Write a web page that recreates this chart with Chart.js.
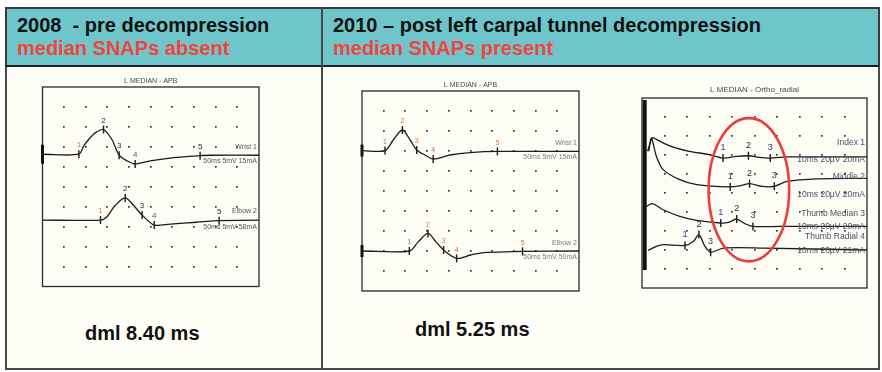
<!DOCTYPE html>
<html>
<head>
<meta charset="utf-8">
<script src="https://cdn.jsdelivr.net/npm/chart.js@4.4.0/dist/chart.umd.min.js"></script>
<style>
body { margin: 0; width: 882px; height: 372px; overflow: hidden; position: relative; background: #fff; font-family: "Liberation Sans", Arial, sans-serif; }
.abs { position: absolute; box-sizing: border-box; }
#frame { left: 5px; top: 7px; width: 875px; height: 363px; border: 2px solid #4a4a4a; background: #fdfdf6; }
#head { left: 5px; top: 7px; width: 875px; height: 60px; background: #6ec6cb; border: 2px solid #3a3a3a; border-bottom: 2.5px solid #1f1f1f; }
#divider { left: 321px; top: 7px; width: 2px; height: 363px; background: #474747; }
.txt { position: absolute; font-weight: bold; font-size: 20px; line-height: 20px; white-space: pre; }
.blk { color: #111; }
.red { color: #f2443f; }
.dml { position: absolute; font-weight: bold; font-size: 20px; line-height: 20px; color: #111; white-space: pre; }
canvas { position: absolute; }
</style>
</head>
<body>
<div id="frame" class="abs"></div>
<div id="head" class="abs"></div>
<div id="divider" class="abs"></div>

<div class="txt blk" style="left:17px;top:15px">2008  - pre decompression</div>
<div class="txt red" style="left:17px;top:38px">median SNAPs absent</div>
<div class="txt blk" style="left:333px;top:15px">2010 – post left carpal tunnel decompression</div>
<div class="txt red" style="left:333px;top:38px">median SNAPs present</div>

<div class="dml" style="left:85px;top:323px">dml 8.40 ms</div>
<div class="dml" style="left:415px;top:319px">dml 5.25 ms</div>

<canvas id="apb08" width="250" height="225" style="left:30px;top:74px"></canvas>
<canvas id="apb10" width="250" height="225" style="left:345px;top:76px"></canvas>
<canvas id="ortho" width="250" height="215" style="left:630px;top:82px"></canvas>

<script>
// time in ms, amplitude in screen divisions (10 x 10 grid)

// 2008, L median - APB, 50 ms sweep
var wrist08T = [0, 8.4, 9.5, 11.1, 12.5, 14.1, 16.0, 17.7, 19.5, 21.4, 24.9, 29.5, 35.7, 36.4, 38.7, 50];
var wrist08V = [6.63, 6.63, 7.04, 7.48, 7.75, 7.87, 7.38, 6.58, 6.30, 6.14, 6.30, 6.44, 6.55, 6.56, 6.58, 6.58];
var wrist08Marks = [8.4, 14.1, 17.7, 21.4, 36.4];
var elbow08T = [0, 13.4, 14.9, 16.8, 19.1, 21.0, 23.0, 25.8, 29.5, 35.6, 38.7, 40.8, 50];
var elbow08V = [3.33, 3.33, 3.5, 4.07, 4.44, 4.07, 3.58, 3.08, 3.13, 3.22, 3.28, 3.30, 3.33];
var elbow08Marks = [13.4, 19.1, 23.0, 25.8, 40.8];

// 2010, L median - APB, 50 ms sweep
var wrist10T = [0, 5.3, 7.2, 9.3, 11.1, 12.6, 14.5, 16.4, 20.3, 24.9, 31.2, 50];
var wrist10V = [7.02, 7.02, 7.55, 8.05, 7.55, 7.05, 6.8, 6.6, 6.8, 6.92, 6.98, 6.98];
var wrist10Marks = [5.3, 9.3, 12.6, 16.4, 31.2];
var elbow10T = [0, 10.9, 13.0, 15.2, 17.0, 18.8, 21.8, 25.0, 28.1, 34.8, 37.0, 50];
var elbow10V = [2.0, 2.0, 2.47, 2.88, 2.47, 2.05, 1.63, 1.8, 1.92, 1.97, 1.98, 2.0];
var elbow10Marks = [10.9, 15.2, 18.8, 21.8, 37.0];

// 2010, L median - ortho/radial, 10 ms sweep
var indexT = [0.25, 0.45, 0.6, 1.0, 1.5, 2.1, 3.0, 3.6, 4.2, 4.73, 5.2, 5.7, 6.5, 10];
var indexV = [7.2, 7.9, 7.85, 7.6, 7.37, 7.19, 7.02, 6.84, 6.93, 6.96, 6.88, 6.84, 6.9, 6.9];
var indexMarks = [3.6, 4.73, 5.7];
var middleT = [0.3, 0.42, 0.64, 0.94, 1.68, 2.43, 3.92, 4.36, 4.78, 5.33, 5.88, 6.45, 7.79, 10];
var middleV = [7.2, 7.89, 6.93, 6.23, 5.7, 5.44, 5.32, 5.38, 5.49, 5.35, 5.35, 5.61, 5.74, 5.77];
var middleMarks = [3.92, 4.78, 5.88];
var thumbMedT = [0.2, 0.46, 0.94, 1.68, 2.43, 3.5, 3.84, 4.21, 4.58, 4.93, 6.15, 10];
var thumbMedV = [4.3, 4.44, 4.12, 3.77, 3.56, 3.42, 3.45, 3.63, 3.38, 3.24, 3.24, 3.24];
var thumbMedMarks = [3.5, 4.21, 4.93];
var thumbRadT = [0.27, 0.64, 0.94, 1.91, 2.28, 2.53, 2.8, 3.05, 3.62, 5.4, 10];
var thumbRadV = [1.98, 2.19, 2.28, 2.24, 2.45, 2.81, 2.19, 1.88, 2.1, 2.1, 2.0];
var thumbRadMarks = [1.91, 2.53, 3.05];
var orthoStimT = [0.12, 0.12];
var orthoStimV = [0.95, 9.9];

function pts(T, V) {
    return T.map(function (t, i) { return { x: t, y: V[i] }; });
}

function trace(T, V, tag) {
    return {
        data: pts(T, V),
        borderColor: '#1c1c1c',
        borderWidth: 1.3,
        pointRadius: 0,
        tension: 0.3,
        clip: false,
        tag: tag
    };
}

function marks(T, V, times, colors, r) {
    var data = times.map(function (t) {
        var i = T.indexOf(t);
        return { x: t, y: V[i] };
    });
    return {
        data: data,
        showLine: false,
        pointStyle: 'line',
        rotation: 90,
        pointRadius: r || 4,
        pointBorderColor: '#1c1c1c',
        pointBorderWidth: 1.4,
        clip: false,
        markLabels: times.map(function (t, i) { return String(i + 1); }),
        markColors: colors
    };
}

function stim(points, r) {
    return {
        data: points,
        showLine: false,
        pointStyle: 'line',
        rotation: 90,
        pointRadius: r,
        pointBorderColor: '#111',
        pointBorderWidth: 3,
        clip: false
    };
}

function deco(cfg) {
    return {
        id: 'deco',
        beforeDatasetsDraw: function (chart) {
            var ctx = chart.ctx, a = chart.chartArea, x = chart.scales.x, y = chart.scales.y;
            ctx.save();
            ctx.fillStyle = '#333';
            for (var i = 1; i < cfg.div; i++) {
                var px = Math.round(x.getPixelForValue(x.min + i * (x.max - x.min) / cfg.div));
                for (var j = 1; j < cfg.div; j++) {
                    var py = Math.round(y.getPixelForValue(y.min + j * (y.max - y.min) / cfg.div));
                    ctx.fillRect(px - 1, py - 1, 1.7, 1.7);
                }
            }
            ctx.strokeStyle = '#2a2a2a';
            ctx.lineWidth = 1.3;
            ctx.strokeRect(a.left, a.top, a.right - a.left, a.bottom - a.top);
            ctx.fillStyle = '#4a4a4a';
            ctx.font = cfg.titleFont;
            ctx.textAlign = 'center';
            ctx.textBaseline = 'bottom';
            ctx.fillText(cfg.title, (a.left + a.right) / 2, a.top - cfg.titleGap);
            ctx.restore();
        },
        afterDatasetsDraw: function (chart) {
            var ctx = chart.ctx, a = chart.chartArea, x = chart.scales.x, y = chart.scales.y;
            ctx.save();
            chart.data.datasets.forEach(function (ds, i) {
                var meta = chart.getDatasetMeta(i);
                if (ds.markLabels) {
                    ctx.font = cfg.markFont;
                    ctx.textAlign = 'center';
                    ctx.textBaseline = 'bottom';
                    meta.data.forEach(function (p, k) {
                        ctx.fillStyle = ds.markColors[k];
                        ctx.fillText(ds.markLabels[k], p.x, p.y - cfg.markGap);
                    });
                }
                if (ds.tag) {
                    var last = meta.data[meta.data.length - 1];
                    ctx.font = cfg.tagFont;
                    ctx.fillStyle = cfg.tagColor;
                    ctx.textAlign = 'right';
                    ctx.textBaseline = 'middle';
                    ctx.fillText(ds.tag[0], a.right - 2, last.y + ds.tag[2]);
                    ctx.fillText(ds.tag[1], a.right - 2, last.y + ds.tag[3]);
                }
            });
            if (cfg.ellipse) {
                var e = cfg.ellipse;
                var cx = x.getPixelForValue(e[0]), cy = y.getPixelForValue(e[1]);
                var rx = x.getPixelForValue(e[0] + e[2]) - cx;
                var ry = cy - y.getPixelForValue(e[1] + e[3]);
                ctx.strokeStyle = '#e8403b';
                ctx.lineWidth = 2.6;
                ctx.beginPath();
                ctx.ellipse(cx, cy, rx, ry, 0, 0, Math.PI * 2);
                ctx.stroke();
            }
            ctx.restore();
        }
    };
}

function makeChart(id, xmax, pad, datasets, cfg) {
    return new Chart(document.getElementById(id).getContext('2d'), {
        type: 'line',
        data: { datasets: datasets },
        options: {
            responsive: false,
            animation: false,
            devicePixelRatio: 1,
            layout: { padding: pad },
            plugins: { legend: { display: false }, tooltip: { enabled: false }, title: { display: false } },
            scales: {
                x: { type: 'linear', min: 0, max: xmax, display: false },
                y: { type: 'linear', min: 0, max: 10, display: false }
            }
        },
        plugins: [deco(cfg)]
    });
}

makeChart('apb08', 50, { left: 12, top: 13, right: 21, bottom: 10 }, [
    trace(wrist08T, wrist08V, ['Wrist 1', '50ms 5mV 15mA', -8, 6]),
    trace(elbow08T, elbow08V, ['Elbow 2', '50ms 5mV 58mA', -9, 7]),
    marks(wrist08T, wrist08V, wrist08Marks, ['#e07a2c', '#2a2a2a', '#2a2a4a', '#3b5bb0', '#2a2a2a']),
    marks(elbow08T, elbow08V, elbow08Marks, ['#e07a2c', '#2a2a2a', '#2a2a4a', '#3b5bb0', '#2a2a2a']),
    stim([{ x: 0, y: wrist08V[0] }], 9.5)
], { div: 10, title: 'L MEDIAN - APB', titleFont: '7px "Liberation Sans", Arial', titleGap: 2,
     markFont: '8px "Liberation Sans", Arial', markGap: 5, tagFont: '7px "Liberation Sans", Arial', tagColor: '#555' });

makeChart('apb10', 50, { left: 17, top: 15, right: 16, bottom: 10 }, [
    trace(wrist10T, wrist10V, ['Wrist 1', '50ms 5mV 15mA', -8, 6]),
    trace(elbow10T, elbow10V, ['Elbow 2', '50ms 5mV 50mA', -8, 6]),
    marks(wrist10T, wrist10V, wrist10Marks, ['#6a8fd0', '#e07a2c', '#e07a2c', '#e0506a', '#e07a2c']),
    marks(elbow10T, elbow10V, elbow10Marks, ['#6a8fd0', '#e07a2c', '#e07a2c', '#e0506a', '#e07a2c']),
    stim([{ x: 0, y: wrist10V[0] }, { x: 0, y: elbow10V[0] }], 6)
], { div: 10, title: 'L MEDIAN - APB', titleFont: '7px "Liberation Sans", Arial', titleGap: 2,
     markFont: '7px "Liberation Sans", Arial', markGap: 5, tagFont: '7px "Liberation Sans", Arial', tagColor: '#7a7a7a' });

var blue3 = ['#2e4488', '#2a2a2a', '#2e3b6a'];
makeChart('ortho', 10, { left: 12, top: 16, right: 13, bottom: 9 }, [
    { data: pts(orthoStimT, orthoStimV), borderColor: '#111', borderWidth: 4, pointRadius: 0, clip: false },
    trace(indexT, indexV, ['Index 1', '10ms 20µV 20mA', -14, 3]),
    trace(middleT, middleV, ['Middle 2', '10ms 20µV 20mA', -2, 16]),
    trace(thumbMedT, thumbMedV, ['Thumb Median 3', '10ms 20µV 20mA', -13, 0]),
    trace(thumbRadT, thumbRadV, ['Thumb Radial 4', '10ms 20µV 21mA', -13, 1]),
    marks(indexT, indexV, indexMarks, blue3),
    marks(middleT, middleV, middleMarks, blue3),
    marks(thumbMedT, thumbMedV, thumbMedMarks, blue3),
    marks(thumbRadT, thumbRadV, thumbRadMarks, blue3)
], { div: 10, title: 'L MEDIAN - Ortho_radial', titleFont: '8px "Liberation Sans", Arial', titleGap: 4,
     markFont: '9px "Liberation Sans", Arial', markGap: 6, tagFont: '8.5px "Liberation Sans", Arial', tagColor: '#4a5068',
     ellipse: [4.75, 5.17, 1.79, 3.77] });
</script>
</body>
</html>
